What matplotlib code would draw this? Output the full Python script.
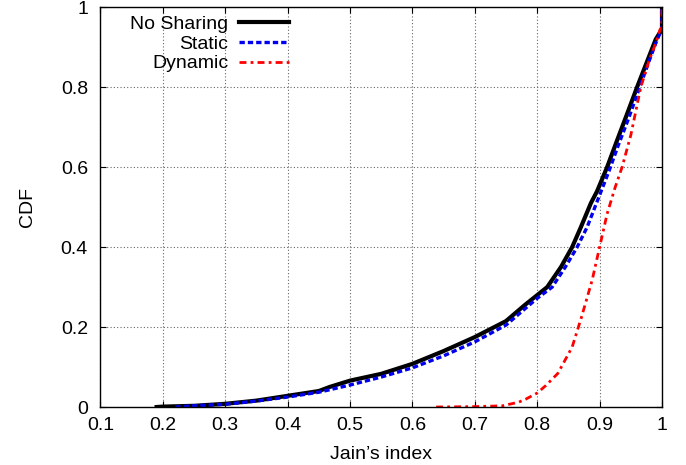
import numpy as np
from matplotlib import pyplot as plt

plt.rcParams['font.family'] = ['Liberation Sans', 'DejaVu Sans']
plt.rcParams['font.size'] = 14

# CDF curves
nosharing_x = [0.19, 0.2, 0.25, 0.3, 0.35, 0.4, 0.45, 0.467, 0.5, 0.55, 0.6, 0.65, 0.7, 0.75, 0.78,
               0.8, 0.816, 0.838, 0.856, 0.87, 0.886, 0.896, 0.912, 0.928, 0.944, 0.96, 0.975, 0.99, 0.998, 1.0, 1.0]
nosharing_y = [0, 0.001, 0.003, 0.008, 0.016, 0.028, 0.04, 0.05, 0.066, 0.083, 0.108, 0.14, 0.175, 0.215, 0.255,
               0.28, 0.30, 0.35, 0.40, 0.45, 0.51, 0.54, 0.60, 0.667, 0.733, 0.80, 0.86, 0.92, 0.94, 0.945, 1.0]

static_x = [0.22, 0.25, 0.3, 0.35, 0.4, 0.45, 0.5, 0.55, 0.6, 0.65, 0.7, 0.75, 0.8, 0.824, 0.845,
            0.864, 0.88, 0.9, 0.915, 0.93, 0.946, 0.962, 0.978, 0.99, 0.998, 1.0, 1.0]
static_y = [0, 0.003, 0.007, 0.015, 0.025, 0.037, 0.055, 0.075, 0.098, 0.128, 0.163, 0.205, 0.272, 0.30, 0.35,
            0.40, 0.45, 0.53, 0.59, 0.655, 0.72, 0.79, 0.86, 0.91, 0.94, 0.945, 1.0]

dynamic_x = [0.638, 0.7, 0.744, 0.77, 0.782, 0.80, 0.814, 0.833, 0.856, 0.871, 0.888, 0.90, 0.912,
             0.925, 0.936, 0.95, 0.966, 0.98, 0.99, 0.997, 1.0, 1.0]
dynamic_y = [0, 0.001, 0.003, 0.012, 0.02, 0.035, 0.054, 0.084, 0.15, 0.225, 0.317, 0.40, 0.483,
             0.55, 0.60, 0.68, 0.80, 0.87, 0.91, 0.945, 0.95, 1.0]

xticks = [0.1, 0.2, 0.3, 0.4, 0.5, 0.6, 0.7, 0.8, 0.9, 1]
yticks = [0, 0.2, 0.4, 0.6, 0.8, 1]

fig = plt.figure(figsize=(6.86, 4.65), dpi=100)
ax = fig.add_axes([0.1465, 0.1247, 0.8185, 0.8596])

ax.plot(nosharing_x, nosharing_y, color='black', lw=3.0, label='No Sharing')
ax.plot(static_x, static_y, color='#0000ee', lw=2.4, linestyle=(0, (1.6, 0.9)), label='Static')
ax.plot(dynamic_x, dynamic_y, color='#ff0000', lw=2.0, linestyle=(0, (2.5, 1.5, 1, 1.5)), label='Dynamic')

ax.set_xlim(0.1, 1)
ax.set_ylim(0, 1)
ax.set_xticks(xticks)
ax.set_xticklabels([str(t) for t in xticks])
ax.set_yticks(yticks)
ax.set_yticklabels([str(t) for t in yticks])
ax.tick_params(direction='in', length=4, top=True, right=True, width=0.8)
ax.tick_params(axis='y', pad=9)
ax.tick_params(axis='x', pad=7)
ax.grid(True, color='#666666', linestyle=(0, (1, 2)), lw=0.8)
for s in ax.spines.values():
    s.set_linewidth(1.0)

ax.set_xlabel('Jain\u2019s index', labelpad=9)
ax.set_ylabel('CDF', labelpad=18)

ax.legend(loc='upper left', bbox_to_anchor=(0.032, 1.01), frameon=False, markerfirst=False,
          handlelength=2.55, handletextpad=0.55, labelspacing=0.12, borderpad=0.1, fontsize=14)

fig.savefig('out.png', dpi=100)
